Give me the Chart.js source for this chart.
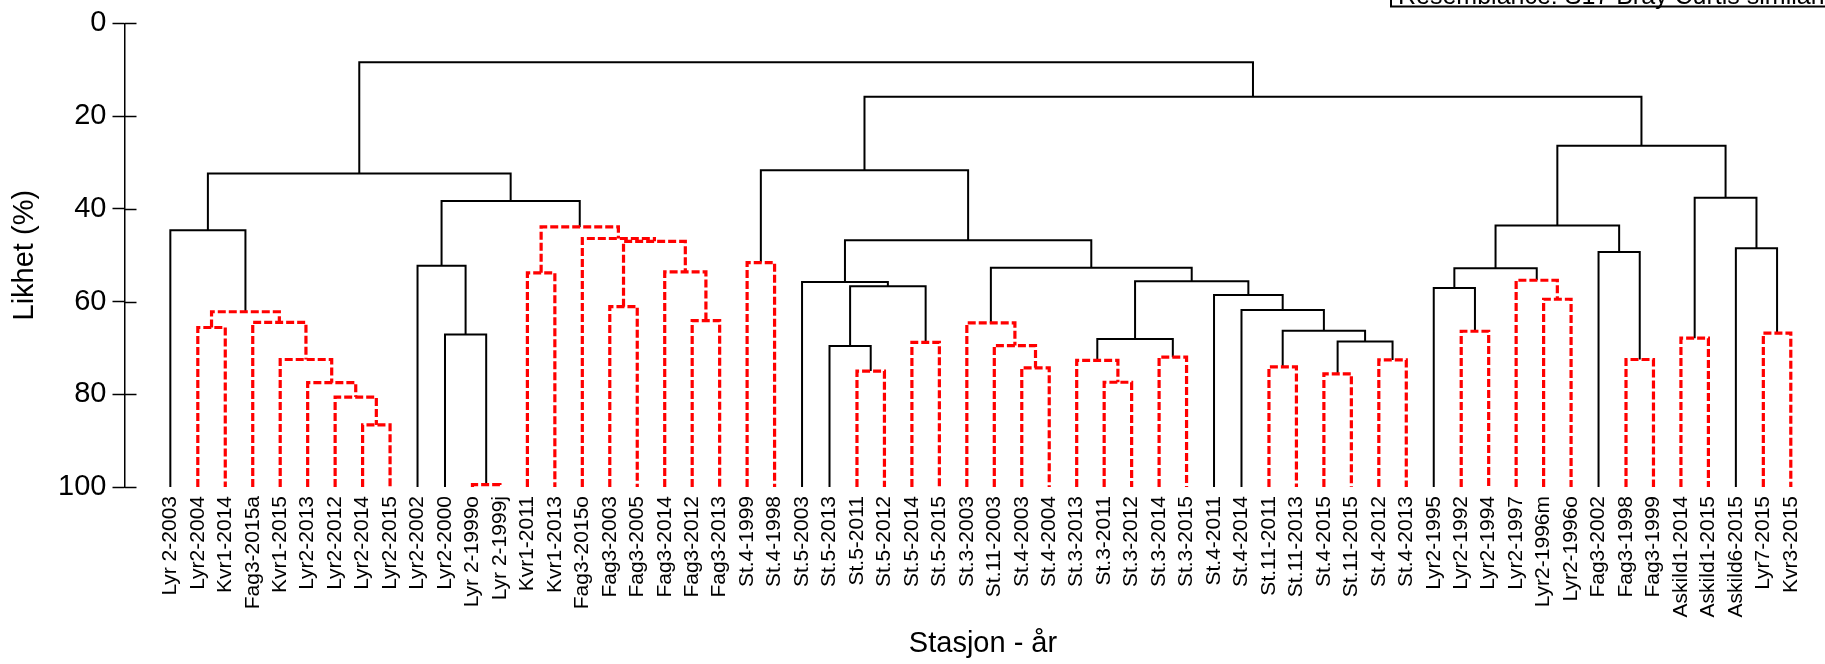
<!DOCTYPE html>
<html>
<head>
<meta charset="utf-8">
<script src="https://cdn.jsdelivr.net/npm/chart.js@4/dist/chart.umd.min.js"></script>
<style>
  html, body { margin: 0; padding: 0; background: #ffffff; }
  #wrap { width: 1825px; height: 664px; position: relative; background: #ffffff; }
  canvas { display: block; }
</style>
</head>
<body>
<div id="wrap"><canvas id="c" width="1825" height="664"></canvas></div>
<script>
// ---- Data ----
const leafLabels = [
  "Lyr 2-2003","Lyr2-2004","Kvr1-2014","Fag3-2015a","Kvr1-2015","Lyr2-2013","Lyr2-2012","Lyr2-2014","Lyr2-2015",
  "Lyr2-2002","Lyr2-2000","Lyr 2-1999o","Lyr 2-1999j","Kvr1-2011","Kvr1-2013","Fag3-2015o","Fag3-2003","Fag3-2005",
  "Fag3-2014","Fag3-2012","Fag3-2013","St.4-1999","St.4-1998","St.5-2003","St.5-2013","St.5-2011","St.5-2012",
  "St.5-2014","St.5-2015","St.3-2003","St.11-2003","St.4-2003","St.4-2004","St.3-2013","St.3-2011","St.3-2012",
  "St.3-2014","St.3-2015","St.4-2011","St.4-2014","St.11-2011","St.11-2013","St.4-2015","St.11-2015","St.4-2012",
  "St.4-2013","Lyr2-1995","Lyr2-1992","Lyr2-1994","Lyr2-1997","Lyr2-1996m","Lyr2-1996o","Fag3-2002","Fag3-1998",
  "Fag3-1999","Askild1-2014","Askild1-2015","Askild6-2015","Lyr7-2015","Kvr3-2015"
];
const yTickValues = [0, 20, 40, 60, 80, 100];

// Merges (hclust convention): negative = leaf -(index+1), positive = earlier merge row (1-based)
const mergeLeft = [-8,-7,-6,-5,-4,-2,6,-1,-12,-11, -10,-20,-19,-17,14,-16,-14,17,11,8,
  -22,-26,-25,-28,23,-24,-32,-31,-30,-35, -34,-37,31,-41,-43,-45,35,34,-40,-39,
  33,29,26,21,-48,-47,-51,-50,46,-54, -53,49,-56,-59,-58,53,52,44,20];
const mergeRight = [-9,1,2,3,4,-3,5,7,-13,9, 10,-21,12,-18,13,15,-15,16,18,19,
  -23,-27,22,-29,24,25,-33,27,28,-36, 30,-38,32,-42,-44,-46,36,37,38,39,
  40,41,42,43,-49,45,-52,47,48,-55, 50,51,-57,-60,54,55,56,57,58];
const mergeSimilarity = [86.6,80.6,77.5,72.5,64.5,65.6,62.2,44.6,99.5,67.1,
  52.3,64.1,53.6,61.1,47.0,46.4,53.8,43.9,38.3,32.4,
  51.6,75.0,69.6,68.8,56.7,55.8,74.3,69.5,64.6,77.4,
  72.7,72.0,68.1,74.1,75.6,72.6,68.6,66.3,61.8,58.6,
  55.6,52.7,46.8,31.7,66.4,57.1,59.5,55.4,52.8,72.5,
  49.3,43.6,67.9,66.8,48.5,37.6,26.4,15.8,8.4];
// 1 = no significant internal structure (SIMPROF) -> red dashed
const mergeNotSignificant = [1,1,1,1,1,1,1,0,1,0, 0,1,1,1,1,1,1,1,0,0,
  1,1,0,1,0,0,1,1,1,1, 1,1,0,1,1,1,0,0,0,0, 0,0,0,0,1,0,1,1,0,1, 0,0,1,1,0,0,0,0,0];

const resemblanceText = "Resemblance: S17 Bray Curtis similarity";
const xTitle = "Stasjon - år";
const yTitle = "Likhet (%)";

// ---- Build dendrogram segments ----
const FONT = "'Liberation Sans', Arial, Helvetica, sans-serif";
const nodeX = [], nodeY = [];
function childPos(c) {
  if (c < 0) return { x: -c - 1, y: 100 };
  return { x: nodeX[c - 1], y: nodeY[c - 1] };
}
const datasets = [];
for (let k = 0; k < mergeSimilarity.length; k++) {
  const l = childPos(mergeLeft[k]);
  const r = childPos(mergeRight[k]);
  const h = mergeSimilarity[k];
  nodeX[k] = (l.x + r.x) / 2;
  nodeY[k] = h;
  const red = mergeNotSignificant[k] === 1;
  datasets.push({
    data: [{x: l.x, y: l.y}, {x: l.x, y: h}, {x: r.x, y: h}, {x: r.x, y: r.y}],
    borderColor: red ? '#ff0000' : '#000000',
    borderWidth: red ? 3.2 : 2,
    borderDash: red ? [8, 3] : [],
    borderCapStyle: 'butt',
    borderJoinStyle: 'miter',
    pointRadius: 0,
    pointHoverRadius: 0,
    fill: false,
    tension: 0,
    clip: false
  });
}

const extrasPlugin = {
  id: 'extras',
  afterDraw(chart) {
    const ctx = chart.ctx;
    const ys = chart.scales.y;
    const left = chart.chartArea.left;
    ctx.save();
    // right-hand half of the crossing tick marks
    ctx.strokeStyle = '#000';
    ctx.lineWidth = 1.5;
    ys.ticks.forEach(t => {
      const py = Math.round(ys.getPixelForValue(t.value)) + 0.5;
      ctx.beginPath();
      ctx.moveTo(left, py);
      ctx.lineTo(left + 12, py);
      ctx.stroke();
    });
    // x-axis title
    ctx.fillStyle = '#000';
    ctx.font = "29px " + FONT;
    ctx.textAlign = 'center';
    ctx.textBaseline = 'middle';
    ctx.fillText(xTitle, 983, 644);
    // resemblance box (clipped at top-right)
    ctx.lineWidth = 2;
    ctx.strokeRect(1391, -30, 600, 36.5);
    ctx.font = "25px " + FONT;
    ctx.textBaseline = 'alphabetic';
    ctx.textAlign = 'left';
    ctx.fillText(resemblanceText, 1398, 3.5);
    ctx.restore();
  }
};

new Chart(document.getElementById('c'), {
  type: 'line',
  data: { datasets },
  plugins: [extrasPlugin],
  options: {
    responsive: false,
    animation: false,
    devicePixelRatio: 1,
    events: [],
    layout: { padding: { top: 20.7, left: 0, right: 0, bottom: 0 }, autoPadding: false },
    plugins: { legend: { display: false }, tooltip: { enabled: false } },
    scales: {
      x: {
        type: 'linear',
        min: -1.669,
        max: 59.76,
        afterBuildTicks: (s) => { s.ticks = leafLabels.map((_, i) => ({ value: i })); },
        afterFit: (s) => { s.height = 177; },
        grid: { display: false, drawTicks: false },
        border: { display: false },
        ticks: {
          autoSkip: false, maxRotation: 90, minRotation: 90, padding: 9,
          color: '#000', font: { family: FONT, size: 21 },
          callback: (v) => leafLabels[v]
        },
        title: { display: false }
      },
      y: {
        type: 'linear',
        reverse: true,
        min: 0,
        max: 100,
        afterBuildTicks: (s) => { s.ticks = yTickValues.map(v => ({ value: v })); },
        afterFit: (s) => { s.width = 124.5; },
        grid: { drawOnChartArea: false, drawTicks: true, tickLength: 12, tickWidth: 1.5, tickColor: '#000' },
        border: { display: true, color: '#000', width: 1.5 },
        ticks: { padding: 6, color: '#000', font: { family: FONT, size: 29 } },
        title: {
          display: true, text: yTitle, color: '#000',
          font: { family: FONT, size: 29, lineHeight: 1.2 },
          padding: { top: 7.6, bottom: 0 }
        }
      }
    }
  }
});
</script>
</body>
</html>
